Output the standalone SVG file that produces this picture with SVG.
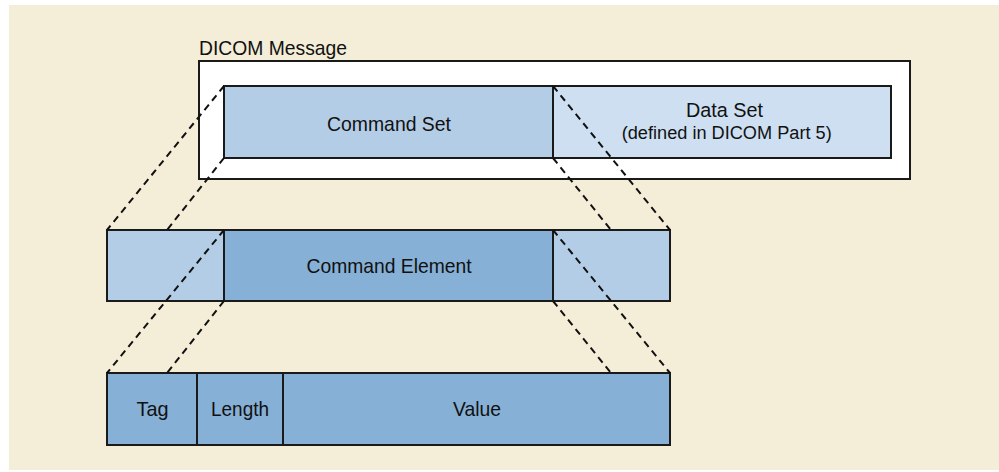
<svg xmlns="http://www.w3.org/2000/svg" width="999" height="472" viewBox="0 0 999 472">
<style>
.box{stroke:#1a1a1a;stroke-width:2}
.lt{fill:#b4cde6}
.dk{fill:#86b0d6}
.ds{fill:#cddff1}
.dash{stroke:#111;stroke-width:2;stroke-dasharray:7 5;fill:none}
text{font-family:"Liberation Sans",Arial,sans-serif;fill:#111;text-anchor:middle;font-size:21px}
</style>
<rect x="0" y="0" width="999" height="472" fill="#ffffff"/>
<rect x="9" y="5" width="990" height="465" fill="#f4edd8"/>
<g id="dicom-message">
<rect class="box" x="199" y="61" width="711" height="118" fill="#ffffff"/>
<text x="199" y="55" style="text-anchor:start" textLength="148" lengthAdjust="spacingAndGlyphs">DICOM Message</text>
</g>
<g id="command-set">
<rect class="box lt" x="224" y="86" width="329" height="72"/>
<text x="389" y="131" textLength="124" lengthAdjust="spacingAndGlyphs">Command Set</text>
</g>
<g id="data-set">
<rect class="box ds" x="553" y="86" width="338" height="72"/>
<text x="724.5" y="117" style="font-size:20.5px" textLength="77" lengthAdjust="spacingAndGlyphs">Data Set</text>
<text x="726.7" y="139" style="font-size:18px" textLength="210" lengthAdjust="spacingAndGlyphs">(defined in DICOM Part 5)</text>
</g>
<g id="mid-left">
<rect class="box lt" x="107" y="230" width="117" height="71"/>
</g>
<g id="command-element">
<rect class="box dk" x="224" y="230" width="329" height="71"/>
<text x="389" y="272.5" textLength="165" lengthAdjust="spacingAndGlyphs">Command Element</text>
</g>
<g id="mid-right">
<rect class="box lt" x="553" y="230" width="117" height="71"/>
</g>
<g id="tag">
<rect class="box dk" x="107" y="373" width="90" height="72"/>
<text x="152.5" y="416" textLength="32" lengthAdjust="spacingAndGlyphs">Tag</text>
</g>
<g id="length">
<rect class="box dk" x="197" y="373" width="86" height="72"/>
<text x="240" y="416" textLength="58" lengthAdjust="spacingAndGlyphs">Length</text>
</g>
<g id="value">
<rect class="box dk" x="283" y="373" width="387" height="72"/>
<text x="477" y="416" textLength="48" lengthAdjust="spacingAndGlyphs">Value</text>
</g>
<g id="connectors">
<line class="dash" x1="224" y1="86" x2="107" y2="230"/>
<line class="dash" x1="224" y1="158" x2="167" y2="230"/>
<line class="dash" x1="553" y1="86" x2="670" y2="230"/>
<line class="dash" x1="553" y1="158" x2="611" y2="230"/>
<line class="dash" x1="224" y1="230" x2="107" y2="373"/>
<line class="dash" x1="224" y1="301" x2="167" y2="373"/>
<line class="dash" x1="553" y1="230" x2="670" y2="373"/>
<line class="dash" x1="553" y1="301" x2="611" y2="373"/>
</g>
</svg>
